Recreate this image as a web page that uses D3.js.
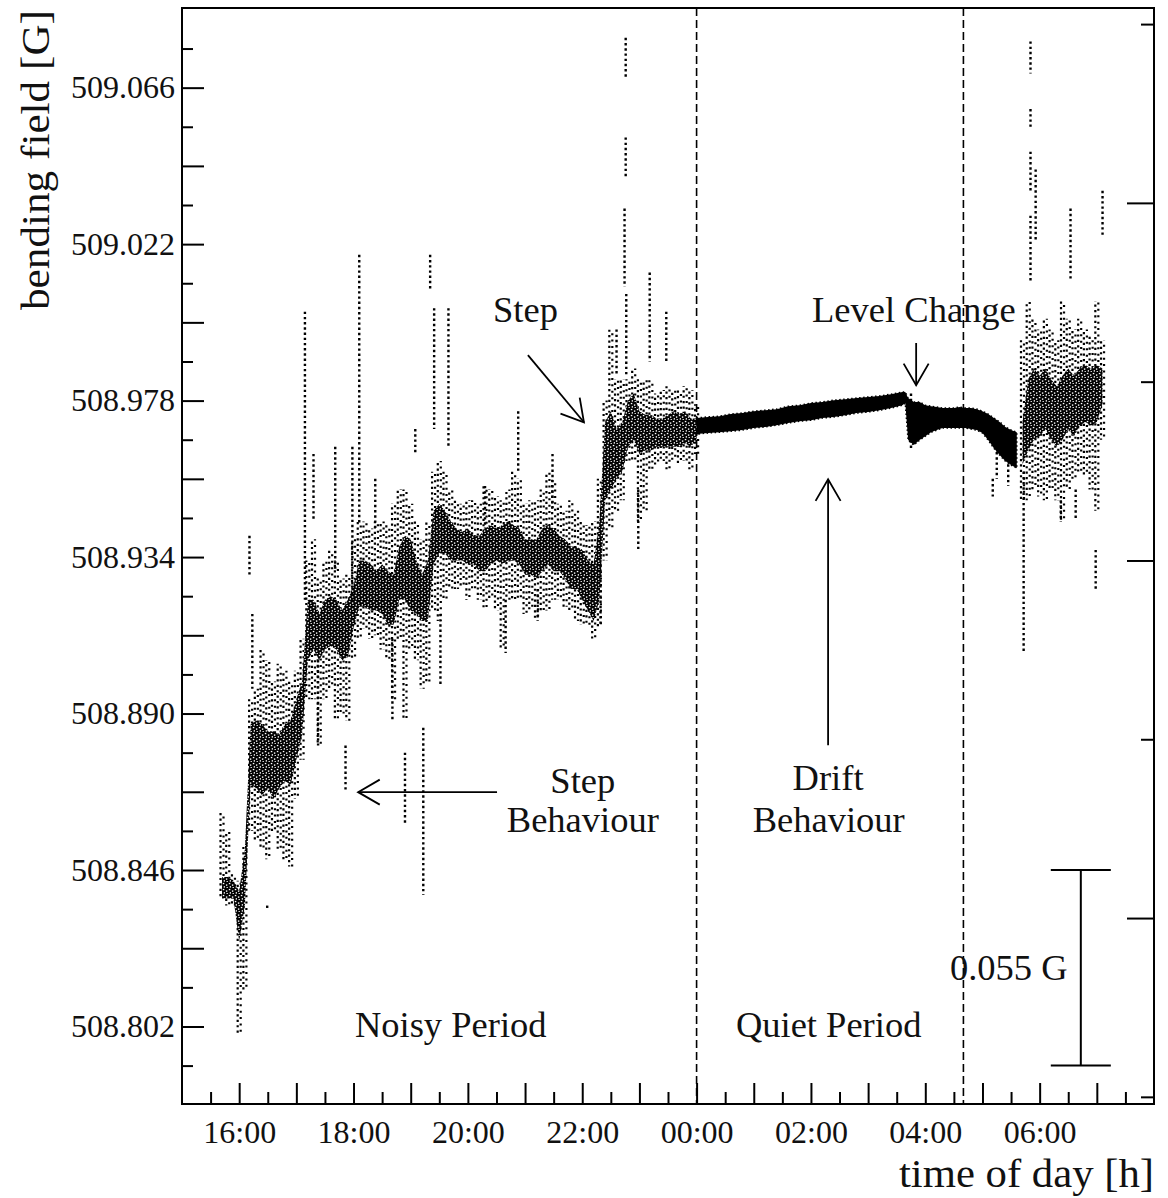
<!DOCTYPE html>
<html>
<head>
<meta charset="utf-8">
<script src="https://cdn.jsdelivr.net/npm/d3@7/dist/d3.min.js"></script>
<style>
  html, body { margin: 0; padding: 0; background: #fff; }
  svg { display: block; }
  text { font-family: "Liberation Serif", "Times New Roman", serif; fill: #111; }
</style>
</head>
<body>
<svg id="chart" width="1168" height="1198"></svg>
<script>
// Time is in hours after midnight of the first day (24 = 00:00, 30 = 06:00).
const timeDomain = [15, 32];
const fieldDomain = [508.7802, 509.0884];

// Evening (noisy) period: dense core and sparse spread per 6-minute bin
const eveningHours = [15.7,15.8,15.9,16.0,16.1,16.2,16.3,16.4,16.5,16.6,16.7,16.8,16.9,
  17.0,17.1,17.2,17.3,17.4,17.5,17.6,17.7,17.8,17.9,18.0,18.1,18.2,18.3,18.4,18.5,18.6,18.7,18.8,18.9,
  19.0,19.1,19.2,19.3,19.4,19.5,19.6,19.7,19.8,19.9,20.0,20.1,20.2,20.3,20.4,20.5,20.6,20.7,20.8,20.9,
  21.0,21.1,21.2,21.3,21.4,21.5,21.6,21.7,21.8,21.9,22.0,22.1,22.2,22.3,22.4,22.5,22.6,22.7,22.8,22.9,
  23.0,23.1,23.2,23.3,23.4,23.5,23.6,23.7,23.8,23.9,24.0];
const eveningCoreHigh = [508.844,508.844,508.843,508.840,508.852,508.887,508.888,508.887,508.885,508.885,508.884,508.887,508.888,
  508.894,508.899,508.922,508.922,508.918,508.922,508.923,508.922,508.919,508.922,508.926,508.933,508.933,508.932,508.930,508.932,508.930,508.929,508.937,508.940,
  508.939,508.933,508.929,508.933,508.947,508.949,508.947,508.944,508.942,508.941,508.942,508.940,508.940,508.942,508.943,508.942,508.943,508.944,508.943,508.942,
  508.939,508.939,508.939,508.942,508.943,508.942,508.940,508.939,508.937,508.937,508.936,508.933,508.932,508.944,508.972,508.975,508.970,508.972,508.978,508.980,
  508.975,508.974,508.974,508.973,508.973,508.974,508.975,508.974,508.975,508.973,508.973];
const eveningCoreLow = [508.838,508.838,508.838,508.826,508.836,508.870,508.869,508.867,508.869,508.866,508.869,508.871,508.870,
  508.877,508.884,508.905,508.908,508.905,508.908,508.909,508.908,508.905,508.906,508.914,508.920,508.920,508.919,508.919,508.918,508.915,508.915,508.922,508.922,
  508.919,508.918,508.916,508.916,508.932,508.935,508.935,508.933,508.933,508.933,508.932,508.932,508.930,508.930,508.932,508.933,508.932,508.933,508.933,508.932,
  508.929,508.929,508.928,508.930,508.932,508.930,508.930,508.928,508.925,508.925,508.922,508.919,508.916,508.922,508.950,508.953,508.956,508.958,508.965,508.967,
  508.963,508.964,508.964,508.965,508.965,508.965,508.965,508.965,508.966,508.965,508.967];
const eveningSpreadHigh = [508.862,508.857,508.845,508.843,508.853,508.894,508.897,508.908,508.905,508.899,508.904,508.902,508.899,
  508.902,508.911,508.933,508.939,508.928,508.933,508.936,508.933,508.928,508.929,508.939,508.944,508.944,508.942,508.944,508.944,508.943,508.949,508.953,508.953,
  508.949,508.944,508.939,508.944,508.958,508.961,508.958,508.953,508.950,508.949,508.950,508.950,508.949,508.954,508.953,508.951,508.950,508.953,508.958,508.956,
  508.949,508.950,508.950,508.953,508.958,508.956,508.949,508.947,508.950,508.947,508.944,508.943,508.944,508.956,508.978,508.998,508.984,508.984,508.984,508.987,
  508.984,508.984,508.984,508.980,508.981,508.982,508.981,508.981,508.982,508.981,508.977];
const eveningSpreadLow = [508.838,508.836,508.836,508.800,508.812,508.857,508.854,508.852,508.849,508.857,508.852,508.849,508.847,
  508.866,508.877,508.894,508.894,508.881,508.894,508.897,508.888,508.890,508.888,508.905,508.911,508.914,508.911,508.912,508.908,508.905,508.894,508.911,508.888,
  508.908,508.905,508.897,508.899,508.919,508.916,508.922,508.925,508.925,508.926,508.922,508.925,508.922,508.919,508.922,508.919,508.908,508.922,508.922,508.922,
  508.918,508.919,508.916,508.919,508.919,508.922,508.922,508.920,508.919,508.916,508.915,508.915,508.911,508.914,508.933,508.942,508.947,508.950,508.961,508.961,
  508.944,508.947,508.958,508.960,508.961,508.958,508.961,508.960,508.961,508.958,508.963];

// Quiet period: narrow drifting band, then the level change
const steadyHours = [24.0,24.2,24.4,24.6,24.8,25.0,25.2,25.4,25.6,25.8,26.0,26.2,26.4,26.6,26.8,27.0,27.2,27.4,27.6,27.65,
  27.7,27.8,27.9,28.0,28.1,28.2,28.3,28.4,28.5,28.6,28.7,28.8,28.9,29.0,29.1,29.2,29.3,29.4,29.5,29.6];
const steadyHigh = [508.9731,508.9734,508.9736,508.9742,508.9745,508.9750,508.9753,508.9756,508.9764,508.9767,508.9773,508.9776,508.9781,508.9784,508.9787,508.9790,508.9793,508.9798,508.9804,508.9804,
  508.9787,508.9776,508.9776,508.9767,508.9764,508.9762,508.9759,508.9759,508.9759,508.9762,508.9759,508.9759,508.9756,508.9750,508.9742,508.9731,508.9720,508.9706,508.9697,508.9691];
const steadyLow = [508.9686,508.9689,508.9691,508.9694,508.9697,508.9703,508.9706,508.9711,508.9717,508.9722,508.9725,508.9731,508.9734,508.9739,508.9745,508.9748,508.9753,508.9759,508.9767,508.9773,
  508.9669,508.9655,508.9669,508.9680,508.9691,508.9697,508.9703,508.9703,508.9703,508.9703,508.9703,508.9700,508.9697,508.9689,508.9669,508.9646,508.9627,508.9610,508.9599,508.9590];

// Morning (noisy again)
const morningHours = [29.7,29.8,29.9,30.0,30.1,30.2,30.3,30.4,30.5,30.6,30.7,30.8,30.9,31.0,31.1];
const morningCoreHigh = [508.972,508.984,508.987,508.985,508.987,508.984,508.982,508.985,508.987,508.985,508.987,508.988,508.987,508.988,508.987];
const morningCoreLow = [508.960,508.964,508.967,508.968,508.970,508.967,508.965,508.967,508.970,508.968,508.971,508.972,508.971,508.972,508.977];
const morningSpreadHigh = [508.995,509.006,509.001,508.998,509.001,508.998,508.995,509.006,509.001,508.998,509.001,508.998,508.996,509.006,508.995];
const morningSpreadLow = [508.950,508.950,508.953,508.951,508.950,508.953,508.950,508.944,508.953,508.956,508.958,508.957,508.953,508.947,508.967];

// Isolated excursions (vertical runs of readings)
const spikeHours = [16.18,16.23,16.49,17.15,17.30,17.38,17.68,17.86,17.98,18.10,18.38,18.68,18.90,19.08,19.22,19.34,19.41,19.52,19.66,
  20.30,20.66,20.88,21.22,21.48,22.32,22.60,22.74,22.76,22.76,22.77,22.98,23.18,23.47,27.75,29.18,29.25,29.45,29.72,
  29.84,29.84,29.84,29.84,29.93,30.37,30.54,30.63,30.98,31.10];
const spikeHigh = [508.940,508.918,508.836,509.003,508.963,508.905,508.965,508.881,508.965,509.019,508.956,508.911,508.879,508.970,508.886,509.019,509.004,508.918,509.004,
  508.954,508.922,508.975,508.925,508.963,508.932,508.998,509.032,509.080,509.052,509.008,508.953,509.014,509.003,508.980,508.956,508.965,508.963,508.958,
  509.079,509.060,509.048,509.030,509.043,508.950,509.032,508.953,508.936,509.037];
const spikeLow = [508.929,508.897,508.835,508.922,508.944,508.881,508.930,508.868,508.922,508.943,508.942,508.888,508.859,508.963,508.839,509.009,508.970,508.898,508.965,
  508.942,508.907,508.958,508.916,508.947,508.915,508.985,509.010,509.069,509.041,508.985,508.936,508.989,508.989,508.964,508.951,508.956,508.954,508.907,
  509.070,509.055,509.037,509.011,509.023,508.944,509.012,508.945,508.925,509.024];

// Axis ticks
const yLabelTicks = [508.802,508.846,508.890,508.934,508.978,509.022,509.066];
const yMajorTicks = [508.824,508.868,508.912,508.956,509.000,509.044];
const yMinorTicks = [508.791,508.813,508.835,508.857,508.879,508.901,508.923,508.945,508.967,508.989,509.011,509.033,509.055,509.077];
const xLabelHours = [16,18,20,22,24,26,28,30];
const xMajorHours = [17,19,21,23,25,27,29,31];
const xMinorHours = [15.5,16.5,17.5,18.5,19.5,20.5,21.5,22.5,23.5,24.5,25.5,26.5,27.5,28.5,29.5,30.5,31.5];
const rightDomain = [-0.52, 2.545];
const rightMajorTicks = [0, 1, 2];
const rightMinorTicks = [-0.5, 0.5, 1.5, 2.5];

// Period boundaries (00:00 and 04:40) and the 0.055 G scale bar
const periodBoundaries = [24, 28 + 40 / 60];
const scaleBarTop = 508.846;
const scaleBarSpan = 0.055;

const svg = d3.select("#chart");
const x = d3.scaleLinear().domain(timeDomain).range([182, 1154]);
const y = d3.scaleLinear().domain(fieldDomain).range([1104, 8]);
const yRight = d3.scaleLinear().domain(rightDomain).range([1104, 8]);

const defs = svg.append("defs");
defs.append("clipPath").attr("id", "plotClip").append("rect")
  .attr("x", x.range()[0]).attr("y", y.range()[1])
  .attr("width", x.range()[1] - x.range()[0]).attr("height", y.range()[0] - y.range()[1]);
// grainy fill for the densely populated parts of the noisy periods
const grain = defs.append("pattern").attr("id", "grain")
  .attr("width", 6).attr("height", 6).attr("patternUnits", "userSpaceOnUse");
grain.append("rect").attr("width", 6).attr("height", 6).attr("fill", "#000");
[[0.8, 0.9, 1.5, 1.3], [3.9, 2.4, 1.4, 1.4], [1.7, 4.2, 1.3, 1.4], [4.6, 5.0, 1.2, 1.0]].forEach(([a, b, w, h]) =>
  grain.append("rect").attr("x", a).attr("y", b).attr("width", w).attr("height", h).attr("fill", "#fff"));

const plot = svg.append("g").attr("clip-path", "url(#plotClip)");

// each bin: two staggered dotted columns for the sparse readings, grainy fill for the dense core
function drawNoisy(hours, coreHigh, coreLow, spreadHigh, spreadLow) {
  const rows = hours.map((h, i) => ({ h, ch: coreHigh[i], cl: coreLow[i], sh: spreadHigh[i], sl: spreadLow[i] }));
  [-1.5, 1.5].forEach((shift, k) => {
    plot.append("g").selectAll("line").data(rows).join("line")
      .attr("x1", d => x(d.h) + shift).attr("x2", d => x(d.h) + shift)
      .attr("y1", d => y(d.sh)).attr("y2", d => y(d.sl))
      .attr("stroke", "#000").attr("stroke-width", 2.2)
      .attr("stroke-dasharray", k ? "2 4.4" : "2.2 3.2")
      .attr("stroke-dashoffset", (d, i) => (i * 2.3 + k * 3.1) % 5.6);
  });
  plot.append("path").datum(rows)
    .attr("d", d3.area().x(d => x(d.h)).y0(d => y(d.cl)).y1(d => y(d.ch)))
    .attr("fill", "url(#grain)");
}

drawNoisy(eveningHours, eveningCoreHigh, eveningCoreLow, eveningSpreadHigh, eveningSpreadLow);
drawNoisy(morningHours, morningCoreHigh, morningCoreLow, morningSpreadHigh, morningSpreadLow);

// quiet band
const steadyRows = steadyHours.map((h, i) => ({ h, hi: steadyHigh[i], lo: steadyLow[i] }));
plot.append("path").datum(steadyRows)
  .attr("d", d3.area().x(d => x(d.h)).y0(d => y(d.lo)).y1(d => y(d.hi)))
  .attr("fill", "#000").attr("stroke", "#000").attr("stroke-width", 1.6)
  .attr("stroke-dasharray", "1.5 2.5");

// excursions
const spikeRows = spikeHours.map((h, i) => ({ h, hi: spikeHigh[i], lo: spikeLow[i] }));
plot.append("g").selectAll("line").data(spikeRows).join("line")
  .attr("x1", d => x(d.h)).attr("x2", d => x(d.h))
  .attr("y1", d => y(d.hi)).attr("y2", d => y(d.lo))
  .attr("stroke", "#000").attr("stroke-width", 2.4)
  .attr("stroke-dasharray", "2.4 2.8");

// period boundaries
svg.append("g").selectAll("line").data(periodBoundaries).join("line")
  .attr("x1", d => x(d)).attr("x2", d => x(d))
  .attr("y1", y.range()[1]).attr("y2", y.range()[0])
  .attr("stroke", "#000").attr("stroke-width", 1.6).attr("stroke-dasharray", "8 4");

// axes
function styleAxis(g, width) {
  g.select(".domain").remove();
  g.selectAll(".tick line").attr("stroke", "#000").attr("stroke-width", width);
  g.selectAll("text").attr("font-family", "Liberation Serif, serif").attr("font-size", 32).attr("fill", "#111");
}
const fmtField = d3.format(".3f");
const fmtHour = h => String(h % 24).padStart(2, "0") + ":00";

svg.append("g").attr("transform", `translate(${x.range()[0]},0)`)
  .call(d3.axisLeft(y).tickValues(yLabelTicks).tickSize(-22).tickPadding(7).tickFormat(fmtField))
  .call(g => styleAxis(g, 2));
svg.append("g").attr("transform", `translate(${x.range()[0]},0)`)
  .call(d3.axisLeft(y).tickValues(yMajorTicks).tickSize(-22).tickFormat(""))
  .call(g => styleAxis(g, 2));
svg.append("g").attr("transform", `translate(${x.range()[0]},0)`)
  .call(d3.axisLeft(y).tickValues(yMinorTicks).tickSize(-11).tickFormat(""))
  .call(g => styleAxis(g, 2));

svg.append("g").attr("transform", `translate(0,${y.range()[0]})`)
  .call(d3.axisBottom(x).tickValues(xLabelHours).tickSize(-21).tickPadding(16).tickFormat(fmtHour))
  .call(g => styleAxis(g, 2));
svg.append("g").attr("transform", `translate(0,${y.range()[0]})`)
  .call(d3.axisBottom(x).tickValues(xMajorHours).tickSize(-21).tickFormat(""))
  .call(g => styleAxis(g, 2));
svg.append("g").attr("transform", `translate(0,${y.range()[0]})`)
  .call(d3.axisBottom(x).tickValues(xMinorHours).tickSize(-12).tickFormat(""))
  .call(g => styleAxis(g, 2));

svg.append("g").attr("transform", `translate(${x.range()[1]},0)`)
  .call(d3.axisRight(yRight).tickValues(rightMajorTicks).tickSize(-27).tickFormat(""))
  .call(g => styleAxis(g, 2));
svg.append("g").attr("transform", `translate(${x.range()[1]},0)`)
  .call(d3.axisRight(yRight).tickValues(rightMinorTicks).tickSize(-13).tickFormat(""))
  .call(g => styleAxis(g, 2));

// frame
svg.append("rect")
  .attr("x", x.range()[0]).attr("y", y.range()[1])
  .attr("width", x.range()[1] - x.range()[0]).attr("height", y.range()[0] - y.range()[1])
  .attr("fill", "none").attr("stroke", "#000").attr("stroke-width", 2);

// axis titles
svg.append("text")
  .attr("transform", `translate(49,${(y.range()[0] + y.range()[1]) / 2 - 396}) rotate(-90)`)
  .attr("text-anchor", "middle").attr("font-size", 41)
  .attr("textLength", 300).attr("lengthAdjust", "spacingAndGlyphs")
  .text("bending field [G]");
svg.append("text")
  .attr("x", x.range()[1]).attr("y", 1187)
  .attr("text-anchor", "end").attr("font-size", 41)
  .attr("textLength", 255).attr("lengthAdjust", "spacingAndGlyphs")
  .text("time of day [h]");

// annotations (positions in hours / gauss)
const notes = [
  { t: "Step", h: 20.44, v: 509.0000, anchor: "start" },
  { t: "Level Change", h: 26.02, v: 509.0000, anchor: "start" },
  { t: "Step", h: 22.01, v: 508.8676, anchor: "middle" },
  { t: "Behaviour", h: 22.01, v: 508.8566, anchor: "middle" },
  { t: "Drift", h: 26.30, v: 508.8685, anchor: "middle" },
  { t: "Behaviour", h: 26.31, v: 508.8566, anchor: "middle" },
  { t: "Noisy Period", h: 19.70, v: 508.7990, anchor: "middle" },
  { t: "Quiet Period", h: 26.31, v: 508.7990, anchor: "middle" },
  { t: "0.055 G", h: 28.43, v: 508.8150, anchor: "start" }
];
svg.append("g").selectAll("text").data(notes).join("text")
  .attr("x", d => x(d.h)).attr("y", d => y(d.v))
  .attr("text-anchor", d => d.anchor).attr("font-size", 36.5)
  .text(d => d.t);

const arrows = [
  { from: [21.05, 508.9908], to: [22.03, 508.9719] },
  { from: [27.84, 508.9942], to: [27.84, 508.9823] },
  { from: [20.51, 508.8679], to: [18.08, 508.8679] },
  { from: [26.30, 508.8811], to: [26.30, 508.9559] }
];
const headLen = 25, headAngle = Math.PI / 6;
arrows.forEach(a => {
  const x0 = x(a.from[0]), y0 = y(a.from[1]), x1 = x(a.to[0]), y1 = y(a.to[1]);
  const ang = Math.atan2(y0 - y1, x0 - x1);
  svg.append("line").attr("x1", x0).attr("y1", y0).attr("x2", x1).attr("y2", y1)
    .attr("stroke", "#000").attr("stroke-width", 1.8);
  const p1 = [x1 + headLen * Math.cos(ang + headAngle), y1 + headLen * Math.sin(ang + headAngle)];
  const p2 = [x1 + headLen * Math.cos(ang - headAngle), y1 + headLen * Math.sin(ang - headAngle)];
  svg.append("path").attr("d", d3.line()([p1, [x1, y1], p2]))
    .attr("fill", "none").attr("stroke", "#000").attr("stroke-width", 1.8);
});

// scale bar
const barHour = 30.72, capHalf = 0.525;
const bar = svg.append("g").attr("stroke", "#000").attr("stroke-width", 2);
bar.append("line").attr("x1", x(barHour)).attr("x2", x(barHour))
  .attr("y1", y(scaleBarTop)).attr("y2", y(scaleBarTop - scaleBarSpan));
[scaleBarTop, scaleBarTop - scaleBarSpan].forEach(v =>
  bar.append("line").attr("x1", x(barHour - capHalf)).attr("x2", x(barHour + capHalf))
    .attr("y1", y(v)).attr("y2", y(v)));
</script>
</body>
</html>
